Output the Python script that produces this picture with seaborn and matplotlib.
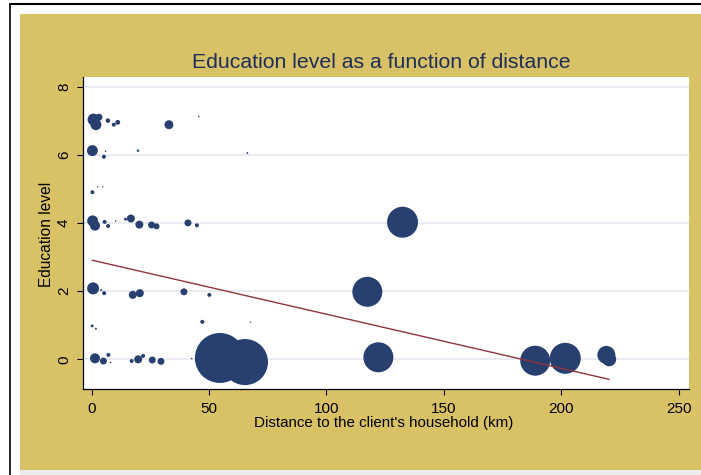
import matplotlib
matplotlib.use("Agg")
import matplotlib.pyplot as plt
from matplotlib.patches import Rectangle
from matplotlib.lines import Line2D
import numpy as np
import pandas as pd
import seaborn as sns

# ---- data ----
distance = [0.8, 1.8, 3.1, 6.9, 9.4, 11.1, 32.9, 45.6,
            0.3, 5.2, 5.9, 19.7, 66.3,
            0.3, 2.6, 4.7,
            0.4, 1.4, 5.5, 7.0, 10.2, 14.4, 16.7, 20.3, 25.5, 27.6, 41.0, 44.8, 132.4,
            0.6, 4.0, 5.3, 17.5, 20.5, 39.3, 50.1, 117.4,
            0.2, 1.8, 47.1, 67.6,
            1.4, 5.0, 7.1, 8.0, 17.0, 19.8, 21.9, 25.8, 29.5, 42.6,
            54.6, 65.3, 122.1, 188.9, 201.7, 219.2, 220.4]
education = [7.03, 6.88, 7.10, 7.00, 6.88, 6.95, 6.88, 7.12,
             6.12, 5.94, 6.10, 6.12, 6.05,
             4.90, 5.06, 5.06,
             4.06, 3.92, 4.03, 3.91, 4.06, 4.11, 4.13, 3.95, 3.94, 3.90, 4.00, 3.93, 4.02,
             2.08, 2.03, 1.94, 1.89, 1.94, 1.98, 1.89, 1.98,
             0.98, 0.90, 1.10, 1.09,
             0.03, -0.05, 0.13, -0.09, -0.05, 0.00, 0.10, -0.02, -0.06, 0.02,
             0.04, -0.08, 0.06, -0.04, 0.03, 0.13, 0.00]
weight = [36, 30, 12, 5, 4, 6, 20, 0.6,
          30, 4, 0.6, 1.5, 0.8,
          4, 0.5, 0.5,
          30, 25, 4, 4, 0.6, 2.2, 16, 16, 12, 9, 12, 4, 240,
          36, 1, 4, 16, 16, 12, 4, 225,
          2.2, 1, 4, 0.5,
          25, 12, 4, 0.6, 4, 16, 4, 12, 12, 0.6,
          625, 530, 225, 225, 240, 81, 49]
fit_intercept = 2.91
fit_slope = -0.01587

x_ticks = [0, 50, 100, 150, 200, 250]
y_ticks = [0, 2, 4, 6, 8]

title = "Education level as a function of distance"
x_label = "Distance to the client's household (km)"
y_label = "Education level"

# ---- style ----
sns.set_style("white")
plt.rcParams["font.family"] = ["Liberation Sans", "DejaVu Sans"]

W, H = 701, 475
fig = plt.figure(figsize=(W / 100, H / 100), dpi=100, facecolor="white")

def fx(px):
    return px / W

def fy(py):
    return 1 - py / H

gold = "#d9c265"
navy = "#274070"
maroon = "#90353b"

# background panels / frame
fig.patches.append(Rectangle((fx(20), fy(475)), fx(W - 20), 6 / H,
                             transform=fig.transFigure, facecolor="#ececec",
                             edgecolor="none", zorder=-3))
fig.patches.append(Rectangle((fx(20), fy(469.5)), fx(W - 20), (469.5 - 14) / H,
                             transform=fig.transFigure, facecolor=gold,
                             edgecolor="none", zorder=-2))
fig.lines.append(Line2D([fx(10), 1], [fy(4.3), fy(4.3)], transform=fig.transFigure,
                        color="black", lw=1.5))
fig.lines.append(Line2D([fx(10), fx(10)], [fy(4.3), 0], transform=fig.transFigure,
                        color="black", lw=1.2))

ax = fig.add_axes([fx(82.7), fy(389), fx(689 - 82.7), (389 - 77.3) / H])
ax.set_facecolor("white")

df = pd.DataFrame({"distance": distance, "education": education, "weight": weight})
wmax = max(weight)
sns.scatterplot(data=df, x="distance", y="education", size="weight",
                sizes=(0, 2.0736 * wmax), size_norm=(0, wmax),
                color=navy, linewidth=0, alpha=1, legend=False, ax=ax, zorder=3)

xs = [min(distance), max(distance)]
fit = pd.DataFrame({"distance": xs,
                    "fitted": [fit_intercept + fit_slope * v for v in xs]})
sns.lineplot(data=fit, x="distance", y="fitted", color=maroon, lw=1.0, ax=ax, zorder=4)

ax.set_xlim(-3.83, 254.4)
ax.set_ylim(-0.87, 8.27)
ax.set_xticks(x_ticks)
ax.set_yticks(y_ticks)
ax.set_xlabel("")
ax.set_ylabel("")

for v in y_ticks:
    ax.axhline(v, color="#e2e5ee", lw=1.1, zorder=1)

for s in ["top", "right"]:
    ax.spines[s].set_visible(False)
for s in ["left", "bottom"]:
    ax.spines[s].set_color("black")
    ax.spines[s].set_linewidth(0.9)

ax.tick_params(axis="both", which="major", direction="out", length=4.5, width=0.8,
               color="black", labelsize=11, labelcolor="black", left=True, bottom=True)
ax.tick_params(axis="x", pad=5)
ax.tick_params(axis="y", pad=4)
for lab in ax.get_yticklabels():
    lab.set_rotation(90)
    lab.set_va("center")

fig.text(fx(381), fy(68.3), title, ha="center", va="baseline", fontsize=15.3,
         color="#1c2c5c")
fig.text(fx(384), fy(426.7), x_label, ha="center", va="baseline", fontsize=10.9,
         color="black")
fig.text(fx(46.7), fy(234), y_label, ha="center", va="center", rotation=90,
         fontsize=11.2, color="black")

fig.savefig("out.png", dpi=100, facecolor="white")
